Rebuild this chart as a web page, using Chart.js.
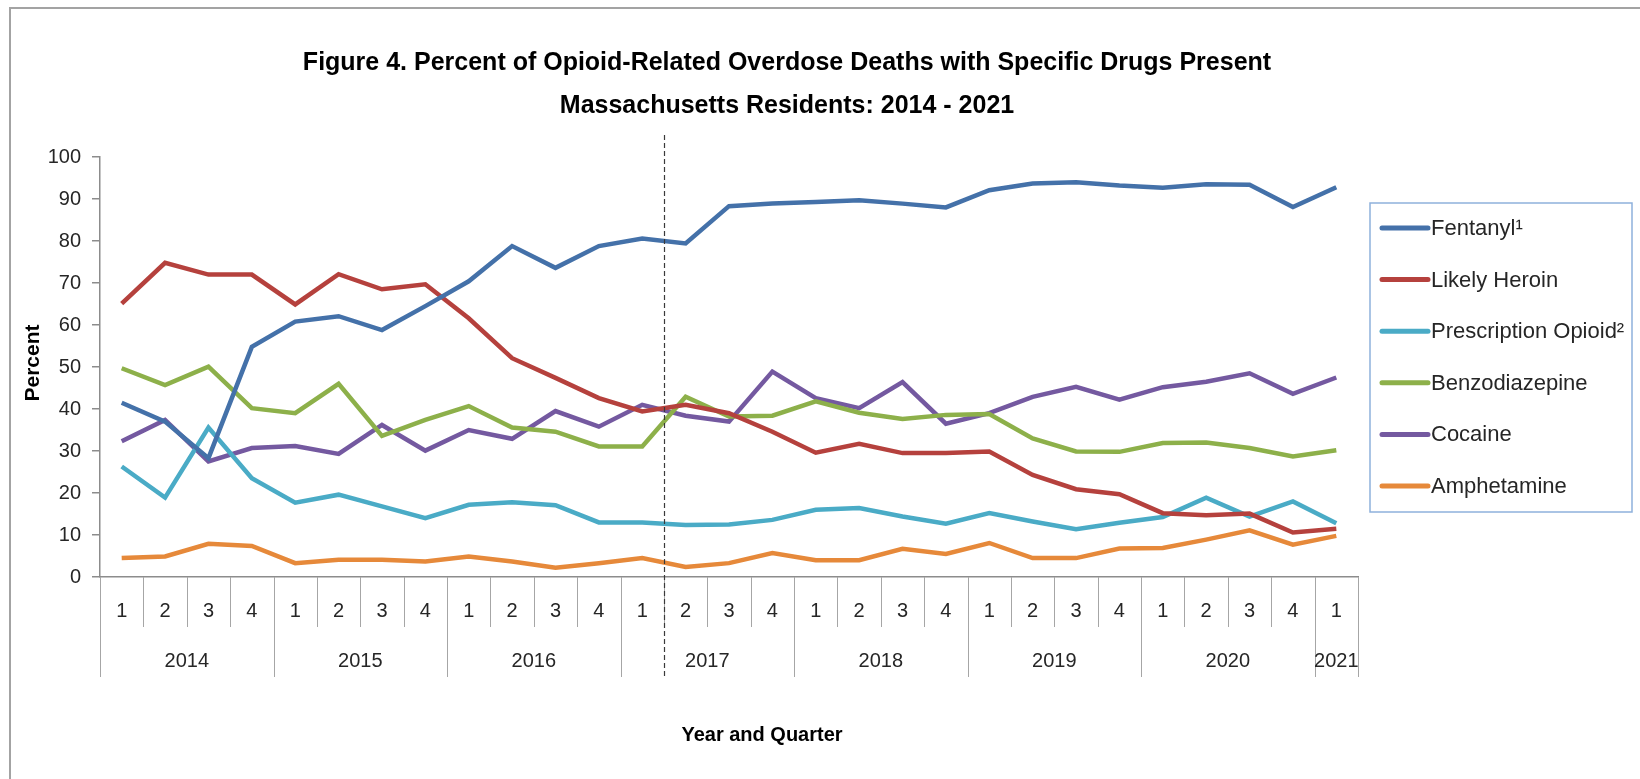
<!DOCTYPE html>
<html>
<head>
<meta charset="utf-8">
<title>Opioid-Related Overdose Deaths - Specific Drugs Present</title>
<script src="https://cdn.jsdelivr.net/npm/chart.js@4/dist/chart.umd.min.js"></script>
<style>
    html, body { margin: 0; padding: 0; background: #ffffff; }
    #wrap { width: 1640px; height: 779px; }
</style>
</head>
<body>
<div id="wrap"><canvas id="myChart" width="1640" height="779"></canvas></div>
<script>
// quarters 2014 Q1 .. 2021 Q1
const quarterLabels = ['1','2','3','4', '1','2','3','4', '1','2','3','4', '1','2','3','4',
                       '1','2','3','4', '1','2','3','4', '1','2','3','4', '1'];
const yearLabels = ['2014', '2015', '2016', '2017', '2018', '2019', '2020', '2021'];
const quartersPerYear = [4, 4, 4, 4, 4, 4, 4, 1];
const breakAfterIndex = 12; // dashed line between 2017 Q1 and Q2

const fentanyl = [41.5, 37.0, 28.3, 54.8, 60.8, 62.1, 58.8, 64.5, 70.4, 78.8, 73.6, 78.8, 80.6,
                  79.4, 88.3, 88.9, 89.3, 89.7, 88.9, 88.0, 92.1, 93.7, 94.0, 93.2, 92.7, 93.5, 93.4, 88.1, 92.8];
const heroin = [65.1, 74.8, 72.0, 72.0, 64.9, 72.1, 68.5, 69.7, 61.6, 52.1, 47.4, 42.6, 39.4,
                41.0, 39.0, 34.6, 29.6, 31.7, 29.5, 29.5, 29.9, 24.3, 20.9, 19.7, 15.2, 14.7, 15.1, 10.6, 11.5];
const rxOpioid = [26.3, 18.9, 35.6, 23.5, 17.7, 19.6, 16.8, 14.0, 17.2, 17.8, 17.1, 13.0, 13.0,
                  12.4, 12.5, 13.6, 16.0, 16.4, 14.4, 12.7, 15.2, 13.2, 11.4, 12.9, 14.3, 18.9, 14.4, 18.0, 12.8];
const benzo = [49.7, 45.7, 50.1, 40.2, 39.0, 46.0, 33.6, 37.4, 40.7, 35.6, 34.6, 31.1, 31.1,
               42.9, 38.2, 38.4, 41.8, 39.1, 37.6, 38.6, 38.8, 33.0, 29.9, 29.8, 31.9, 32.0, 30.7, 28.7, 30.2];
const cocaine = [32.3, 37.4, 27.5, 30.7, 31.2, 29.3, 36.2, 30.1, 35.0, 32.9, 39.5, 35.8, 41.0,
                 38.4, 37.0, 48.9, 42.6, 40.2, 46.4, 36.5, 39.0, 42.9, 45.3, 42.2, 45.2, 46.5, 48.5, 43.6, 47.5];
const amphetamine = [4.5, 4.9, 7.9, 7.4, 3.3, 4.1, 4.1, 3.7, 4.9, 3.7, 2.2, 3.3, 4.5,
                     2.4, 3.3, 5.7, 4.0, 4.0, 6.7, 5.5, 8.1, 4.5, 4.5, 6.8, 6.9, 8.9, 11.1, 7.7, 9.8];

const seriesNames = ['Fentanyl\u00B9', 'Likely Heroin', 'Prescription Opioid\u00B2', 'Benzodiazepine', 'Cocaine', 'Amphetamine'];
const seriesColors = ['#4471a9', '#b5413d', '#4aabc6', '#8db04a', '#7459a0', '#e6893a'];
const seriesValues = [fentanyl, heroin, rxOpioid, benzo, cocaine, amphetamine];

const FONT = '"Liberation Sans", Arial, sans-serif';
const TEXT = '#262626';

const decorPlugin = {
    id: 'decor',
    afterDraw(chart) {
        const ctx = chart.ctx;
        const area = chart.chartArea;
        const x = chart.scales.x;
        const step = x.getPixelForValue(1) - x.getPixelForValue(0);
        const edge = i => x.getPixelForValue(i) - step / 2;
        const bottom = area.bottom;

        ctx.save();

        // outer frame (top and left only)
        ctx.strokeStyle = '#a3a3a3';
        ctx.lineWidth = 2;
        ctx.beginPath();
        ctx.moveTo(10, 779);
        ctx.lineTo(10, 8);
        ctx.lineTo(1640, 8);
        ctx.stroke();

        // title
        ctx.fillStyle = '#000';
        ctx.textAlign = 'center';
        ctx.textBaseline = 'alphabetic';
        ctx.font = 'bold 25px ' + FONT;
        ctx.fillText('Figure 4. Percent of Opioid-Related Overdose Deaths with Specific Drugs Present', 787, 70);
        ctx.fillText('Massachusetts Residents: 2014 - 2021', 787, 113);

        // axis titles
        ctx.font = 'bold 20px ' + FONT;
        ctx.textBaseline = 'middle';
        ctx.fillText('Year and Quarter', 762, 735);
        ctx.save();
        ctx.translate(33, 363);
        ctx.rotate(-Math.PI / 2);
        ctx.font = 'bold 21px ' + FONT;
        ctx.fillText('Percent', 0, 0);
        ctx.restore();

        // quarter separators
        ctx.strokeStyle = '#a6a6a6';
        ctx.lineWidth = 1;
        for (let i = 0; i <= quarterLabels.length; i++) {
            const px = Math.round(edge(i)) + 0.5;
            ctx.beginPath();
            ctx.moveTo(px, bottom);
            ctx.lineTo(px, bottom + 50);
            ctx.stroke();
        }

        // quarter labels
        ctx.fillStyle = TEXT;
        ctx.font = '20px ' + FONT;
        quarterLabels.forEach((q, i) => {
            ctx.fillText(q, x.getPixelForValue(i), bottom + 34);
        });

        // year groups
        let start = 0;
        yearLabels.forEach((yr, k) => {
            const end = start + quartersPerYear[k];
            const x0 = edge(start), x1 = edge(end);
            [x0, x1].forEach(px => {
                ctx.beginPath();
                ctx.moveTo(Math.round(px) + 0.5, bottom);
                ctx.lineTo(Math.round(px) + 0.5, bottom + 100);
                ctx.stroke();
            });
            ctx.fillText(yr, (x0 + x1) / 2, bottom + 84);
            start = end;
        });

        // dashed break line
        const bx = Math.round((x.getPixelForValue(breakAfterIndex) + x.getPixelForValue(breakAfterIndex + 1)) / 2) + 0.5;
        ctx.strokeStyle = '#3a3a3a';
        ctx.lineWidth = 1.2;
        ctx.setLineDash([5, 3]);
        ctx.beginPath();
        ctx.moveTo(bx, 135);
        ctx.lineTo(bx, bottom + 100);
        ctx.stroke();
        ctx.setLineDash([]);

        // legend
        const lx = 1370, ly = 203, lw = 262, lh = 309;
        ctx.strokeStyle = '#8eb1dc';
        ctx.lineWidth = 1.5;
        ctx.strokeRect(lx, ly, lw, lh);
        ctx.textAlign = 'left';
        ctx.font = '22px ' + FONT;
        chart.data.datasets.forEach((ds, i) => {
            const y = 228 + i * 51.6;
            ctx.strokeStyle = ds.borderColor;
            ctx.lineWidth = 5;
            ctx.lineCap = 'round';
            ctx.beginPath();
            ctx.moveTo(1382, y);
            ctx.lineTo(1428, y);
            ctx.stroke();
            ctx.fillStyle = TEXT;
            ctx.fillText(ds.label, 1431, y + 1);
        });

        ctx.restore();
    }
};

const ctx = document.getElementById('myChart').getContext('2d');
new Chart(ctx, {
    type: 'line',
    data: {
        labels: quarterLabels,
        datasets: seriesNames.map((name, i) => ({
            label: name,
            data: seriesValues[i],
            borderColor: seriesColors[i],
            backgroundColor: seriesColors[i],
            borderWidth: 4.5,
            pointRadius: 0,
            fill: false,
            tension: 0
        }))
    },
    options: {
        responsive: false,
        animation: false,
        layout: {
            padding: { top: 157, right: 1640 - 1358, left: 0, bottom: 0 }
        },
        plugins: {
            legend: { display: false },
            tooltip: { enabled: false },
            title: { display: false }
        },
        scales: {
            x: {
                offset: true,
                grid: { display: true, drawOnChartArea: false, drawTicks: false },
                ticks: { display: false },
                border: { color: '#8c8c8c', width: 1.5 },
                afterFit(scale) { scale.height = 202; }
            },
            y: {
                min: 0,
                max: 100,
                ticks: {
                    stepSize: 10,
                    padding: 11,
                    color: TEXT,
                    font: { size: 20, family: FONT }
                },
                grid: { drawOnChartArea: false, tickLength: 8, color: '#8c8c8c', lineWidth: 1.5 },
                border: { color: '#8c8c8c', width: 1.5 },
                afterFit(scale) { scale.width = 100; }
            }
        }
    },
    plugins: [decorPlugin]
});
</script>
</body>
</html>
